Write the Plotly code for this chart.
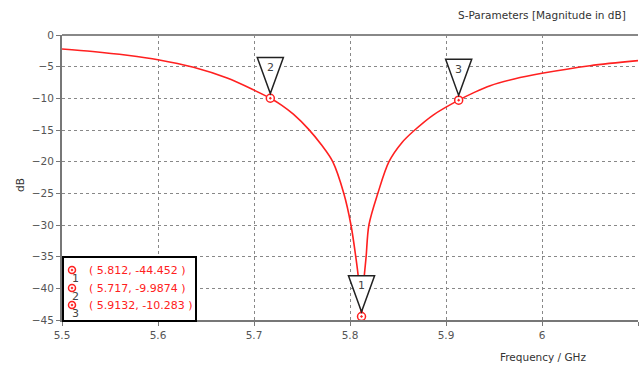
import plotly.graph_objects as go

freq = [5.50, 5.532, 5.568, 5.600, 5.637, 5.672, 5.700, 5.717, 5.729, 5.741, 5.757, 5.770,
        5.782, 5.7935, 5.801, 5.806, 5.809, 5.812, 5.8145, 5.8168, 5.8197, 5.829,
        5.8406, 5.854, 5.866, 5.887, 5.9132, 5.929, 5.946, 5.971, 6.000, 6.050, 6.100]
s11 = [-2.2, -2.6, -3.2, -3.9, -5.1, -6.8, -8.7, -9.99, -11.1, -12.5, -14.9, -17.3,
       -20.0, -25.0, -30.0, -35.0, -38.7, -44.452, -38.7, -35.0, -30.0, -25.0,
       -20.0, -17.0, -15.2, -12.6, -10.283, -9.1, -8.0, -6.95, -6.05, -4.85, -4.05]

mk_id = ["1", "2", "3"]
mk_x = [5.812, 5.717, 5.9132]
mk_y = [-44.452, -9.9874, -10.283]
mk_txt = ["( 5.812, -44.452 )", "( 5.717, -9.9874 )", "( 5.9132, -10.283 )"]

x_ticks = [5.5, 5.6, 5.7, 5.8, 5.9, 6.0, 6.1]
x_tick_lbl = ["5.5", "5.6", "5.7", "5.8", "5.9", "6", "6.1"]
y_ticks = [0, -5, -10, -15, -20, -25, -30, -35, -40, -45]

RED = "#ff2020"
GRAY = "#555555"
FONT = "DejaVu Sans"

L, R, T, B = 62, 638, 35, 320
def px(xp):
    return (xp - L) / (R - L)
def py(yp):
    return (B - yp) / (B - T)

fig = go.Figure()
fig.add_trace(go.Scatter(x=freq, y=s11, mode="lines",
                         line=dict(color=RED, width=1.6, shape="spline", smoothing=0.9),
                         hoverinfo="skip", showlegend=False))
fig.add_trace(go.Scatter(x=mk_x, y=mk_y, mode="markers",
                         marker=dict(symbol="circle-dot", size=8, color="white",
                                     line=dict(color=RED, width=1.5)),
                         showlegend=False, cliponaxis=False))

shapes = []
annotations = []
# marker triangles
half_w = 0.0136
for i in range(3):
    tip = mk_y[i] + 0.75
    top = tip + 5.7
    shapes.append(dict(type="path", xref="x", yref="y",
                       path=f"M {mk_x[i]-half_w},{top} L {mk_x[i]+half_w},{top} L {mk_x[i]},{tip} Z",
                       line=dict(color="#222222", width=1.5), fillcolor="white", layer="above"))
    annotations.append(dict(x=mk_x[i], y=top - 1.6, xref="x", yref="y", text=mk_id[i],
                            showarrow=False, xanchor="center", yanchor="middle",
                            font=dict(family=FONT, size=11, color="#444444")))

# legend box
shapes.append(dict(type="rect", xref="paper", yref="paper",
                   x0=px(63), x1=px(196), y0=py(321), y1=py(257),
                   line=dict(color="black", width=2), fillcolor="white", layer="above"))
rows_y = [270, 288, 305]
for i in range(3):
    cx, cy = 72, rows_y[i]
    shapes.append(dict(type="circle", xref="paper", yref="paper",
                       x0=px(cx - 3.5), x1=px(cx + 3.5), y0=py(cy + 3.5), y1=py(cy - 3.5),
                       line=dict(color=RED, width=1.5), fillcolor="white", layer="above"))
    shapes.append(dict(type="circle", xref="paper", yref="paper",
                       x0=px(cx - 1), x1=px(cx + 1), y0=py(cy + 1), y1=py(cy - 1),
                       line=dict(color=RED, width=0.5), fillcolor=RED, layer="above"))
    annotations.append(dict(x=px(87), y=py(rows_y[i]), xref="paper", yref="paper",
                            text=mk_txt[i], showarrow=False, xanchor="left", yanchor="middle",
                            font=dict(family=FONT, size=11, color=RED)))
    annotations.append(dict(x=px(75), y=py(rows_y[i] + 8), xref="paper", yref="paper",
                            text=mk_id[i], showarrow=False, xanchor="center", yanchor="middle",
                            font=dict(family=FONT, size=11, color="#444444")))

annotations.append(dict(x=px(628), y=py(15), xref="paper", yref="paper",
                        text="S-Parameters [Magnitude in dB]", showarrow=False,
                        xanchor="right", yanchor="middle",
                        font=dict(family=FONT, size=10.5, color="#333333")))
annotations.append(dict(x=px(543), y=py(357), xref="paper", yref="paper",
                        text="Frequency / GHz", showarrow=False,
                        xanchor="center", yanchor="middle",
                        font=dict(family=FONT, size=10.5, color="#333333")))
annotations.append(dict(x=px(20), y=py(185), xref="paper", yref="paper",
                        text="dB", showarrow=False, textangle=-90,
                        xanchor="center", yanchor="middle",
                        font=dict(family=FONT, size=10.5, color="#333333")))

fig.update_layout(
    width=642, height=367,
    margin=dict(l=L, r=642 - R, t=T, b=367 - B),
    paper_bgcolor="white", plot_bgcolor="white",
    font=dict(family=FONT, size=10.5, color=GRAY),
    shapes=shapes, annotations=annotations,
    xaxis=dict(range=[5.5, 6.1], tickvals=x_ticks, ticktext=x_tick_lbl,
               showgrid=True, gridcolor="#888888", griddash="dot", gridwidth=1,
               showline=True, linecolor="#777777", linewidth=2,
               ticks="outside", ticklen=4, tickcolor="#777777",
               zeroline=False, tickfont=dict(size=10.5, color=GRAY)),
    yaxis=dict(range=[-45, 0], tickvals=y_ticks,
               showgrid=True, gridcolor="#888888", griddash="dot", gridwidth=1,
               showline=True, linecolor="#777777", linewidth=2,
               ticks="outside", ticklen=4, tickcolor="#777777",
               zeroline=True, zerolinecolor="#888888", zerolinewidth=2,
               tickfont=dict(size=10.5, color=GRAY)),
)

fig.write_html("out.html")
